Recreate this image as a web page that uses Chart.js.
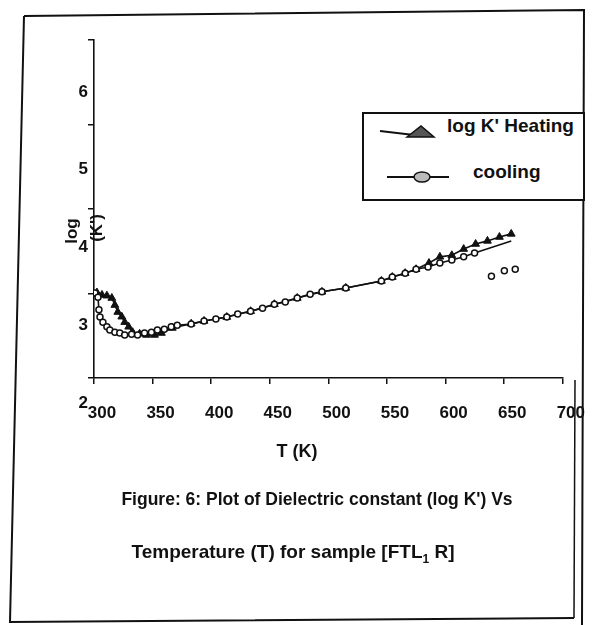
<!DOCTYPE html>
<html>
<head>
<meta charset="utf-8">
<script src="https://cdn.jsdelivr.net/npm/chart.js@4.4.1/dist/chart.umd.min.js"></script>
<style>
  body { margin: 0; background: #fff; }
  #hoja { position: relative; width: 596px; height: 625px; overflow: hidden; font-family: "Liberation Sans", Arial, sans-serif; color: #111; }
  #grafico { position: absolute; left: 0; top: 0; }
  .txt { position: absolute; white-space: nowrap; font-weight: bold; }
  .rot { transform: translate(-50%, -50%) rotate(-90deg); }
  .centro { transform: translateX(-50%); }
  svg { position: absolute; left: 0; top: 0; }
</style>
</head>
<body>
<div id="hoja">
  <canvas id="grafico" width="596" height="625"></canvas>
  <svg width="596" height="625">
    <!-- marco escaneado -->
    <polyline points="24,16 584,10 582,625" fill="none" stroke="#111" stroke-width="2"/>
    <polyline points="24,16 10,622 574,618" fill="none" stroke="#111" stroke-width="2"/>
    <line x1="575" y1="380" x2="574" y2="618" stroke="#111" stroke-width="1.5"/>
    <!-- leyenda -->
    <rect x="363" y="113" width="221" height="87" fill="#fff" stroke="#111" stroke-width="2"/>
    <line x1="380" y1="131" x2="414" y2="135" stroke="#111" stroke-width="2"/>
    <polygon points="407,137 421,126 434,137" fill="#555" stroke="#111" stroke-width="1.5"/>
    <line x1="387" y1="177" x2="449" y2="177" stroke="#111" stroke-width="2"/>
    <ellipse cx="422" cy="177" rx="8" ry="5" fill="#bbb" stroke="#111" stroke-width="1.5"/>
  </svg>
  <div class="txt" style="left:447px; top:115px; font-size:19px;">log K' Heating</div>
  <div class="txt" style="left:473px; top:161px; font-size:19px;">cooling</div>
  <div class="txt rot" style="left:72px; top:231px; font-size:17px;">log</div>
  <div class="txt rot" style="left:97px; top:228px; font-size:17px;">(K')</div>
  <div class="txt centro" style="left:297px; top:441px; font-size:18px;">T (K)</div>
  <div class="txt centro" style="left:317px; top:489px; font-size:17.5px;">Figure: 6: Plot of Dielectric constant (log K') Vs</div>
  <div class="txt centro" style="left:293px; top:541px; font-size:19px;">Temperature (T) for sample [FTL<sub style="font-size:12px;">1</sub> R]</div>
</div>

<script>
// DATOS (T en K, log K')
const tempCalentamiento = [302.5, 306.8, 311.0, 315.2, 317.8, 320.3, 323.7, 326.2, 329.6, 333.0,
  338.9, 344.8, 351.6, 357.5, 366.8, 382.9, 393.9, 413.3, 433.6, 453.9, 473.4, 494.5, 514.8,
  545.2, 554.5, 565.5, 574.8, 585.8, 595.1, 605.3, 615.4, 625.6, 635.7, 645.9, 656.0];
const logCalentamiento = [3.42, 3.39, 3.38, 3.35, 3.26, 3.17, 3.11, 3.04, 2.98, 2.91,
  2.89, 2.875, 2.875, 2.90, 2.965, 3.02, 3.055, 3.105, 3.18, 3.27, 3.35, 3.43, 3.48,
  3.57, 3.62, 3.67, 3.72, 3.80, 3.88, 3.90, 3.98, 4.045, 4.085, 4.135, 4.175];

const tempEnfriamiento = [300.8, 303.4, 304.2, 305.1, 307.6, 311.0, 313.5, 317.8, 322.0, 326.2,
  332.1, 337.2, 343.1, 349.0, 354.1, 360.0, 365.9, 371.0, 382.9, 393.9, 404.0, 413.3, 422.6,
  433.6, 443.8, 453.9, 463.2, 473.4, 484.4, 494.5, 514.8, 545.2, 554.5, 565.5, 574.8, 585.0,
  595.1, 605.3, 615.4, 624.7, 656.0];
const logEnfriamiento = [3.415, 3.36, 3.20, 3.105, 3.04, 2.98, 2.94, 2.91, 2.90, 2.875,
  2.885, 2.875, 2.90, 2.91, 2.94, 2.95, 2.98, 3.00, 3.015, 3.055, 3.08, 3.105, 3.145,
  3.18, 3.22, 3.27, 3.30, 3.35, 3.40, 3.43, 3.48, 3.57, 3.62, 3.67, 3.72, 3.75,
  3.80, 3.84, 3.88, 3.93, 4.085];

// puntos sueltos de enfriamiento (sin linea)
const tempSueltos = [639.1, 650.1, 659.4];
const logSueltos = [3.63, 3.70, 3.72];

const ticksY = [2, 3, 4, 5, 6];

const negro = "#111";
const toXY = (xs, ys) => xs.map((t, i) => ({ x: t, y: ys[i] }));
const ultimoEnfr = tempEnfriamiento.length - 1;

new Chart(document.getElementById("grafico"), {
  type: "scatter",
  data: {
    datasets: [
      {
        label: "cooling",
        data: toXY(tempEnfriamiento, logEnfriamiento),
        showLine: true,
        borderColor: negro,
        borderWidth: 1.6,
        pointStyle: "circle",
        pointRadius: (ctx) => (ctx.dataIndex === ultimoEnfr ? 0 : 3),
        pointBackgroundColor: "#fff",
        pointBorderColor: negro,
        pointBorderWidth: 1.5,
      },
      {
        label: "cooling (sueltos)",
        data: toXY(tempSueltos, logSueltos),
        showLine: false,
        pointStyle: "circle",
        pointRadius: 3,
        pointBackgroundColor: "#fff",
        pointBorderColor: negro,
        pointBorderWidth: 1.5,
      },
      {
        label: "log K' Heating",
        data: toXY(tempCalentamiento, logCalentamiento),
        showLine: true,
        borderColor: negro,
        borderWidth: 1.6,
        pointStyle: "triangle",
        pointRadius: 4.5,
        pointBackgroundColor: negro,
        pointBorderColor: negro,
        pointBorderWidth: 1,
      },
    ],
  },
  options: {
    responsive: false,
    animation: false,
    events: [],
    layout: { padding: { left: 59, top: 40, right: 29, bottom: 187 } },
    plugins: { legend: { display: false }, tooltip: { enabled: false } },
    scales: {
      x: {
        type: "linear",
        position: "bottom",
        min: 300,
        max: 700,
        afterFit: (s) => { s.height = 60; },
        ticks: {
          stepSize: 50,
          labelOffset: 8,
          padding: 19,
          color: negro,
          font: { family: "'Liberation Sans', Arial", size: 17, weight: "bold" },
          maxRotation: 0,
        },
        grid: { drawOnChartArea: false, tickLength: 6, color: negro, lineWidth: 1.5 },
        border: { color: negro, width: 1.6 },
      },
      // escala de los datos (segun las etiquetas)
      y: { display: false, min: 2.3215, max: 6.669 },
      // marcas del eje
      yMarcas: {
        type: "linear",
        position: "left",
        weight: 0,
        min: 2,
        max: 6,
        afterFit: (s) => { s.width = 6; },
        ticks: { display: false, stepSize: 1 },
        grid: { drawOnChartArea: false, tickLength: 6, color: negro, lineWidth: 1.5 },
        border: { color: negro, width: 1.6 },
      },
      // etiquetas del eje (desplazadas como en el original)
      yEtiquetas: {
        type: "linear",
        position: "left",
        weight: 1,
        min: 2,
        max: 6.347,
        afterFit: (s) => { s.width = 29; },
        afterBuildTicks: (s) => { s.ticks = ticksY.map((v) => ({ value: v })); },
        ticks: {
          labelOffset: 25,
          padding: 0,
          color: negro,
          font: { family: "'Liberation Sans', Arial", size: 17, weight: "bold" },
        },
        grid: { display: false, drawTicks: false },
        border: { display: false },
      },
    },
  },
});
</script>
</body>
</html>
